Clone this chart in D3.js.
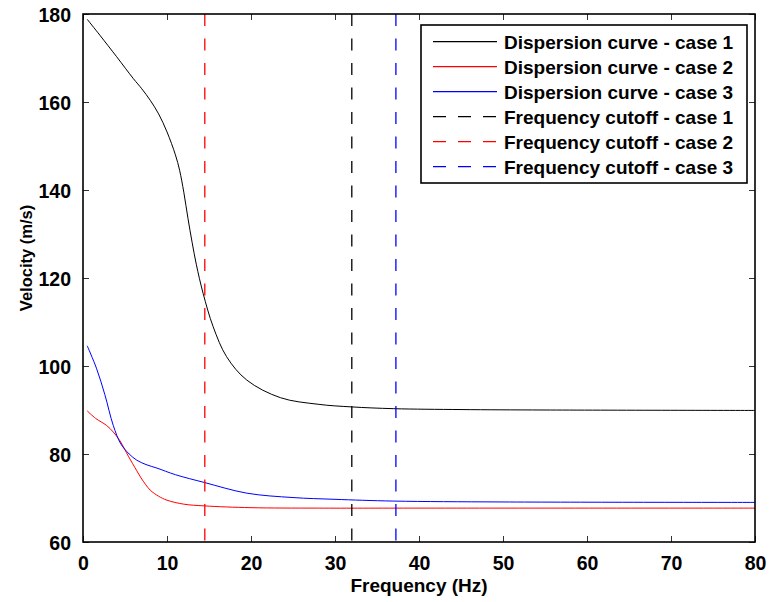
<!DOCTYPE html>
<html>
<head>
<meta charset="utf-8">
<script src="https://cdn.jsdelivr.net/npm/d3@7"></script>
<style>
    body { margin: 0; background: #fff; }
    text { font-family: "Liberation Sans", Arial, sans-serif; font-weight: bold; }
</style>
</head>
<body>
<div id="chart"></div>
<script>
// Data
const case1Freq = [0.5, 2, 4, 6, 7, 8, 9, 10, 11, 11.5, 12, 12.5, 13, 13.5, 14.3, 15.5, 17.1, 19.5, 23.5, 28, 32, 37, 45, 55, 80];
const case1Vel  = [178.8, 175.2, 170.3, 165.3, 163.0, 160.4, 157.3, 153.2, 148.0, 144.5, 139.5, 133.5, 128.0, 123.0, 116.5, 108.9, 102.1, 96.8, 92.8, 91.3, 90.7, 90.3, 90.1, 90.0, 89.9];

const case2Freq = [0.5, 1.5, 2.8, 3.6, 4.4, 5.4, 6.4, 7, 8, 9, 10, 12, 14.5, 20, 28, 40, 80];
const case2Vel  = [89.8, 88.1, 86.5, 85.0, 83.0, 79.5, 76.2, 74.3, 71.8, 70.4, 69.5, 68.6, 68.2, 67.8, 67.7, 67.7, 67.7];

const case3Freq = [0.5, 1.6, 2.6, 3.6, 4.5, 5.5, 6.4, 7.5, 8.8, 11, 14.5, 19.5, 25, 30, 37, 50, 80];
const case3Vel  = [104.6, 99.5, 93.5, 86.5, 82.3, 80.0, 78.6, 77.6, 76.8, 75.3, 73.5, 71.1, 70.1, 69.7, 69.3, 69.1, 69.0];

const cutoffs = [32, 14.5, 37.25];
const caseColors = ["#000000", "#ff0000", "#0000ff"];

const xTicks = [0, 10, 20, 30, 40, 50, 60, 70, 80];
const yTicks = [60, 80, 100, 120, 140, 160, 180];

const legendLabels = [
    "Dispersion curve - case 1",
    "Dispersion curve - case 2",
    "Dispersion curve - case 3",
    "Frequency cutoff - case 1",
    "Frequency cutoff - case 2",
    "Frequency cutoff - case 3"
];

// Layout
const width = 770, height = 602;
const margin = { top: 14, right: 15, bottom: 60, left: 83 };
const plotW = width - margin.left - margin.right;
const plotH = height - margin.top - margin.bottom;
const dash = "12,12.5";

const svg = d3.select("#chart").append("svg")
    .attr("width", width)
    .attr("height", height);

const g = svg.append("g")
    .attr("transform", `translate(${margin.left},${margin.top})`);

const x = d3.scaleLinear().domain([0, 80]).range([0, plotW]);
const y = d3.scaleLinear().domain([60, 180]).range([plotH, 0]);

// Ticks pointing inward on all four sides
const tickLen = 6;
g.append("g")
    .attr("transform", `translate(0,${plotH})`)
    .call(d3.axisBottom(x).tickValues(xTicks).tickSize(-tickLen).tickPadding(tickLen + 8))
    .call(a => a.select(".domain").remove())
    .call(a => a.selectAll("text").attr("font-size", "19.5px").attr("fill", "#000"));

g.append("g")
    .call(d3.axisLeft(y).tickValues(yTicks).tickSize(-tickLen).tickPadding(tickLen + 6))
    .call(a => a.select(".domain").remove())
    .call(a => a.selectAll("text").attr("font-size", "19.5px").attr("fill", "#000").attr("dy", "0.36em"));

g.append("g")
    .call(d3.axisTop(x).tickValues(xTicks).tickSize(-tickLen).tickFormat(""))
    .call(a => a.select(".domain").remove());

g.append("g")
    .attr("transform", `translate(${plotW},0)`)
    .call(d3.axisRight(y).tickValues(yTicks).tickSize(-tickLen).tickFormat(""))
    .call(a => a.select(".domain").remove());

g.selectAll(".tick line").attr("stroke", "#333").attr("stroke-width", 1);

// Curves
const line = d3.line()
    .x(d => x(d[0]))
    .y(d => y(d[1]))
    .curve(d3.curveCatmullRom.alpha(0.5));

const curves = [
    d3.zip(case1Freq, case1Vel),
    d3.zip(case2Freq, case2Vel),
    d3.zip(case3Freq, case3Vel)
];

g.selectAll(".curve")
    .data(curves)
    .enter()
    .append("path")
    .attr("class", "curve")
    .attr("d", line)
    .attr("fill", "none")
    .attr("stroke", (d, i) => caseColors[i])
    .attr("stroke-width", 1);

// Cutoff lines
g.selectAll(".cutoff")
    .data(cutoffs)
    .enter()
    .append("line")
    .attr("class", "cutoff")
    .attr("x1", d => x(d))
    .attr("x2", d => x(d))
    .attr("y1", 0)
    .attr("y2", plotH)
    .attr("stroke", (d, i) => caseColors[i])
    .attr("stroke-width", 1.3)
    .attr("stroke-dasharray", dash);

// Frame
g.append("rect")
    .attr("width", plotW)
    .attr("height", plotH)
    .attr("fill", "none")
    .attr("stroke", "#000")
    .attr("stroke-width", 1.6);

// Axis labels
svg.append("text")
    .attr("x", margin.left + plotW / 2)
    .attr("y", 592)
    .attr("text-anchor", "middle")
    .attr("font-size", "19px")
    .text("Frequency (Hz)");

svg.append("text")
    .attr("transform", "translate(32,258) rotate(-90)")
    .attr("text-anchor", "middle")
    .attr("font-size", "16.5px")
    .text("Velocity (m/s)");

// Legend
const legend = svg.append("g")
    .attr("transform", "translate(421,25)");

legend.append("rect")
    .attr("width", 326)
    .attr("height", 158)
    .attr("fill", "#fff")
    .attr("stroke", "#000")
    .attr("stroke-width", 1.6);

const rows = legend.selectAll(".row")
    .data(legendLabels)
    .enter()
    .append("g")
    .attr("class", "row")
    .attr("transform", (d, i) => `translate(0,${16.7 + i * 25})`);

rows.append("line")
    .attr("x1", 12)
    .attr("x2", 76)
    .attr("stroke", (d, i) => caseColors[i % 3])
    .attr("stroke-width", 1.2)
    .attr("stroke-dasharray", (d, i) => i < 3 ? null : "13,12");

rows.append("text")
    .attr("x", 83)
    .attr("dy", "0.36em")
    .attr("font-size", "19px")
    .text(d => d);
</script>
</body>
</html>
